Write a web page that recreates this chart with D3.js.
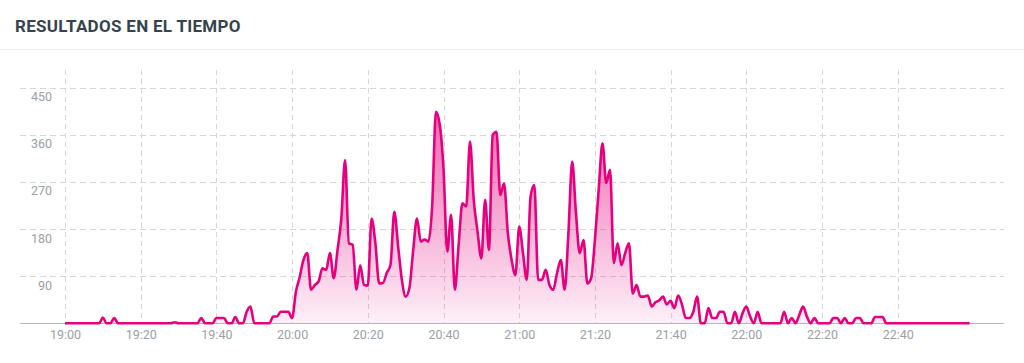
<!DOCTYPE html>
<html>
<head>
<meta charset="utf-8">
<script src="https://cdn.jsdelivr.net/npm/d3@7"></script>
<style>
  html, body { margin: 0; padding: 0; background: #fff; }
  svg { display: block; }
</style>
</head>
<body>
<svg id="chart" width="1024" height="363"></svg>
<script>
// ---- DATA ----
const title = "RESULTADOS EN EL TIEMPO";
const startTime = "19:00";            // first sample, one sample per minute
const values = [
  0,0,0,0,0,0,0,0,0,0,
  11,0,0,10,0,0,0,0,0,0,
  0,0,0,0,0,0,0,0,0,2,
  0,0,0,0,0,0,10,0,0,0,
  10,10,10,0,0,12,0,0,22,32,
  0,0,0,0,0,13,13,22,22,22,
  10,60,88,121,134,64,73,80,105,102,
  134,86,140,200,312,153,150,64,111,73,
  72,200,153,76,77,96,112,213,148,83,
  51,68,140,200,156,160,156,223,404,380,
  295,137,207,64,150,229,223,347,235,175,
  124,236,140,360,366,245,267,172,121,92,
  185,134,83,242,264,83,83,102,73,64,
  96,121,64,172,309,210,134,159,76,86,
  159,255,344,268,293,115,153,111,134,153,
  57,73,51,51,53,32,40,44,51,36,
  43,29,53,36,10,10,22,51,0,0,
  29,10,10,22,22,0,0,22,0,19,
  32,13,0,22,0,0,0,0,0,0,
  22,0,10,0,16,32,13,0,10,0,
  0,0,0,10,10,0,10,0,0,10,
  10,0,0,0,12,12,12,0,0,0,
  0,0,0,0,0,0,0,0,0,0,
  0,0,0,0,0,0,0,0,0,0
];
const xTickLabels = ["19:00","19:20","19:40","20:00","20:20","20:40","21:00","21:20","21:40","22:00","22:20","22:40"];
const yTickValues = [90, 180, 270, 360, 450];

// ---- SETUP ----
const svg = d3.select("#chart");
const parseT = d3.timeParse("%H:%M");
const fmtT = d3.timeFormat("%H:%M");
const t0 = parseT(startTime);
const data = values.map((v, i) => ({ t: d3.timeMinute.offset(t0, i), v }));
const xTicks = xTickLabels.map(parseT);

const x = d3.scaleTime()
  .domain([xTicks[0], xTicks[xTicks.length - 1]])
  .range([65, 897.7]);
const y = d3.scaleLinear().domain([0, 450]).range([323.3, 87.7]);

const plotLeft = 20, plotRight = 1004, plotTop = 70, baseY = y(0);

// header
svg.append("text")
  .attr("x", 15).attr("y", 31.8)
  .attr("font-family", "Roboto, 'Open Sans', sans-serif")
  .attr("font-weight", "bold")
  .attr("font-size", 17)
  .attr("letter-spacing", 0.3)
  .attr("fill", "#37434c")
  .text(title);
svg.append("line")
  .attr("x1", 0).attr("x2", 1024).attr("y1", 49.5).attr("y2", 49.5)
  .attr("stroke", "#ececec").attr("stroke-width", 1);

// gradient
const defs = svg.append("defs");
const grad = defs.append("linearGradient")
  .attr("id", "fillGrad").attr("x1", 0).attr("y1", 0).attr("x2", 0).attr("y2", 1);
grad.append("stop").attr("offset", "0%").attr("stop-color", "#e6007e").attr("stop-opacity", 0.6);
grad.append("stop").attr("offset", "100%").attr("stop-color", "#e6007e").attr("stop-opacity", 0.06);

// grid
const grid = svg.append("g");
grid.selectAll("line.h").data(yTickValues).join("line")
  .attr("class", "h")
  .attr("x1", plotLeft).attr("x2", plotRight)
  .attr("y1", d => Math.round(y(d)) + 0.5).attr("y2", d => Math.round(y(d)) + 0.5)
  .attr("stroke", "#d6d6d6").attr("stroke-dasharray", "6,4");
grid.selectAll("line.v").data(xTicks).join("line")
  .attr("class", "v")
  .attr("x1", d => Math.round(x(d)) + 0.5).attr("x2", d => Math.round(x(d)) + 0.5)
  .attr("y1", plotTop).attr("y2", baseY)
  .attr("stroke", "#d6d6d6").attr("stroke-dasharray", "5,4");

// area + line
const area = d3.area()
  .x(d => x(d.t)).y0(baseY).y1(d => y(d.v))
  .curve(d3.curveMonotoneX);
const line = d3.line()
  .x(d => x(d.t)).y(d => y(d.v))
  .curve(d3.curveMonotoneX);

svg.append("path").datum(data)
  .attr("d", area).attr("fill", "url(#fillGrad)");

// x axis line
svg.append("line")
  .attr("x1", plotLeft).attr("x2", plotRight)
  .attr("y1", Math.round(baseY) + 0.5).attr("y2", Math.round(baseY) + 0.5)
  .attr("stroke", "#b4b8bb").attr("stroke-width", 1);

svg.append("path").datum(data)
  .attr("d", line).attr("fill", "none")
  .attr("stroke", "#e6007e").attr("stroke-width", 2.6)
  .attr("stroke-linejoin", "round");

// y labels
const yAxis = d3.axisLeft(y).tickValues(yTickValues).tickSize(0).tickPadding(0);
const gy = svg.append("g").attr("transform", "translate(52,13)").call(yAxis);
gy.select(".domain").remove();
gy.selectAll("text")
  .attr("font-family", "Roboto, sans-serif").attr("font-size", 12.5)
  .attr("fill", "#9aa0a4").attr("dy", 0).attr("dominant-baseline", "auto");

// x labels
const xAxis = d3.axisBottom(x).tickValues(xTicks).tickFormat(fmtT).tickSize(0).tickPadding(0);
const gx = svg.append("g").attr("transform", "translate(0,338.5)").call(xAxis);
gx.select(".domain").remove();
gx.selectAll("text")
  .attr("font-family", "Roboto, sans-serif").attr("font-size", 12.5)
  .attr("fill", "#9aa0a4").attr("dy", 0).attr("y", 0);
</script>
</body>
</html>
